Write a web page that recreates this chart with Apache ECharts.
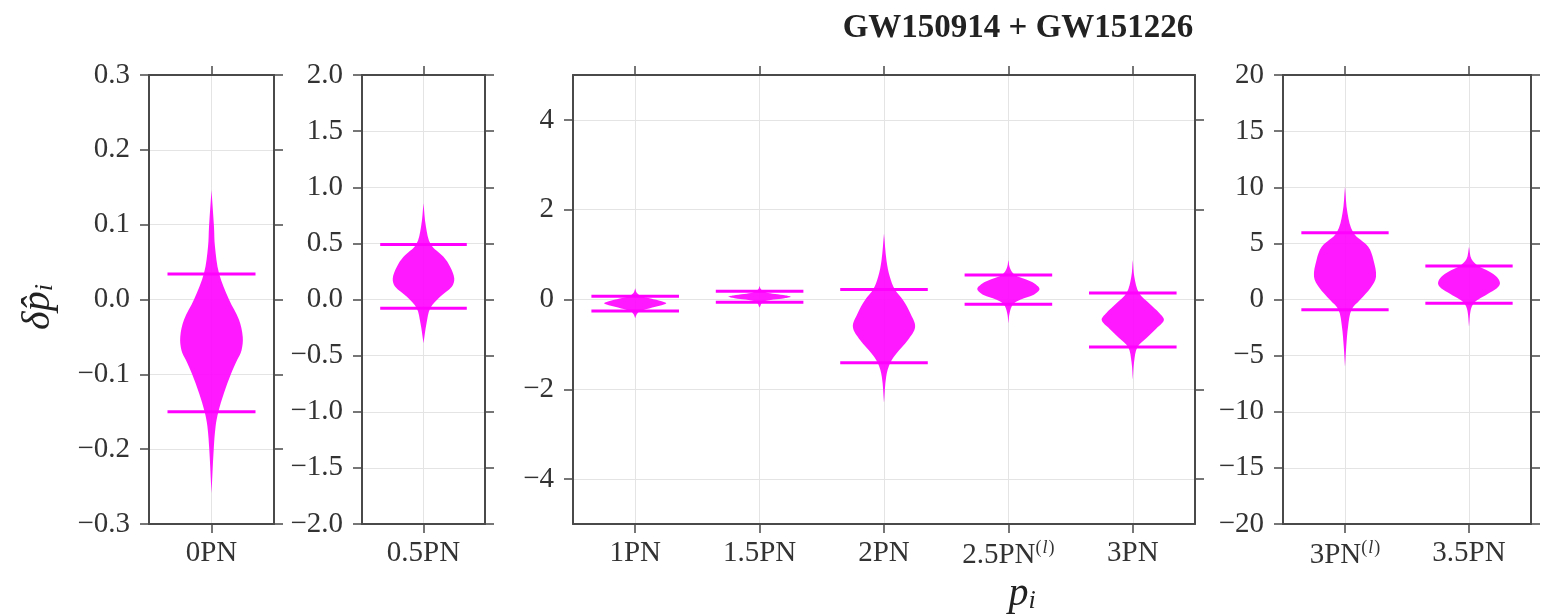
<!DOCTYPE html>
<html>
<head>
<meta charset="utf-8">
<script src="https://cdn.jsdelivr.net/npm/echarts@6/dist/echarts.min.js"></script>
<style>
html,body{margin:0;padding:0;background:#fff;}
#chart{width:1546px;height:616px;}
</style>
</head>
<body>
<div id="chart"></div>
<script>
// ---------------- DATA ----------------
const panelCategories = [
  ['0PN'],
  ['0.5PN'],
  ['1PN', '1.5PN', '2PN', '2.5PN{sup|(}{supi|l}{sup|)}', '3PN'],
  ['3PN{sup|(}{supi|l}{sup|)}', '3.5PN']
];
const yRanges = [[-0.3, 0.3], [-2, 2], [-5, 5], [-20, 20]];
const yTickValues = [
  [-0.3, -0.2, -0.1, 0, 0.1, 0.2, 0.3],
  [-2, -1.5, -1, -0.5, 0, 0.5, 1, 1.5, 2],
  [-4, -2, 0, 2, 4],
  [-20, -15, -10, -5, 0, 5, 10, 15, 20]
];
const yTickLabels = [
  ['\u22120.3', '\u22120.2', '\u22120.1', '0.0', '0.1', '0.2', '0.3'],
  ['\u22122.0', '\u22121.5', '\u22121.0', '\u22120.5', '0.0', '0.5', '1.0', '1.5', '2.0'],
  ['\u22124', '\u22122', '0', '2', '4'],
  ['\u221220', '\u221215', '\u221210', '\u22125', '0', '5', '10', '15', '20']
];
// violins: panel index and slot inside the panel
const violinPanel = [0, 1, 2, 2, 2, 2, 2, 3, 3];
const violinSlot  = [0, 0, 0, 1, 2, 3, 4, 0, 1];
// 90% bounds (horizontal bars)
const lowerBound = [-0.150, -0.077, -0.256, -0.063, -1.41, -0.107, -1.06, -0.91, -0.34];
const upperBound = [0.034, 0.49, 0.071, 0.183, 0.22, 0.546, 0.145, 5.95, 2.98];
// violin outlines: sampled parameter values (top to bottom) and relative density (max = 1)
const violinValues = [
  [0.146, 0.097, 0.071, 0.035, 0.0, -0.027, -0.05, -0.068, -0.081, -0.1, -0.125, -0.15, -0.17, -0.201, -0.259],
  [0.857, 0.649, 0.49, 0.38, 0.29, 0.188, 0.114, 0.025, -0.078, -0.21, -0.39],
  [0.25, 0.15, 0.07, 0.02, -0.04, -0.085, -0.13, -0.2, -0.26, -0.33, -0.42],
  [0.3, 0.22, 0.16, 0.12, 0.09, 0.063, 0.03, 0.0, -0.06, -0.18],
  [1.47, 0.87, 0.5, 0.22, -0.01, -0.31, -0.61, -0.9, -1.2, -1.41, -1.72, -2.3],
  [0.88, 0.7, 0.55, 0.45, 0.35, 0.227, 0.1, 0.0, -0.107, -0.3, -0.53],
  [0.88, 0.5, 0.145, -0.1, -0.3, -0.457, -0.65, -0.85, -1.06, -1.4, -1.79],
  [10.05, 7.7, 5.95, 4.7, 3.5, 2.03, 1.1, -0.05, -0.91, -2.4, -4.2, -6.0],
  [4.7, 3.6, 2.98, 2.5, 2.0, 1.44, 1.0, 0.5, 0.0, -0.34, -1.0, -2.42]
];
const violinDensity = [
  [0, 0.08, 0.11, 0.24, 0.56, 0.88, 1.0, 0.96, 0.82, 0.62, 0.4, 0.22, 0.13, 0.07, 0],
  [0, 0.08, 0.24, 0.65, 0.87, 1.0, 0.92, 0.54, 0.22, 0.1, 0],
  [0, 0.05, 0.2, 0.5, 0.85, 1.0, 0.85, 0.45, 0.15, 0.05, 0],
  [0, 0.05, 0.2, 0.5, 0.85, 1.0, 0.8, 0.45, 0.1, 0],
  [0, 0.08, 0.19, 0.35, 0.61, 0.85, 1.0, 0.77, 0.4, 0.2, 0.07, 0],
  [0, 0.05, 0.2, 0.55, 0.85, 1.0, 0.8, 0.4, 0.15, 0.04, 0],
  [0, 0.05, 0.2, 0.55, 0.85, 1.0, 0.75, 0.45, 0.15, 0.04, 0],
  [0, 0.08, 0.27, 0.75, 0.92, 1.0, 0.84, 0.48, 0.21, 0.1, 0.04, 0],
  [0, 0.08, 0.3, 0.65, 0.9, 1.0, 0.9, 0.6, 0.3, 0.15, 0.05, 0]
];
const titleText = 'GW150914 + GW151226';

// ---------------- LAYOUT / STYLE ----------------
const SERIF = "'Liberation Serif', 'DejaVu Serif', serif";
const AXIS_COLOR = '#4a4a4a';
const GRID_COLOR = '#e4e4e4';
const MAGENTA = '#ff00ff';
const LABEL_SIZE = 29;
const gridBoxes = [
  { left: 149, width: 125 },
  { left: 362, width: 123 },
  { left: 573, width: 622 },
  { left: 1283, width: 248 }
];
const TOP = 75, HEIGHT = 449;

const chart = echarts.init(document.getElementById('chart'), null, { renderer: 'canvas' });

const grids = [], xAxes = [], yAxes = [], series = [];
const labelRich = {
  sup: { fontFamily: SERIF, fontSize: 18, color: '#333', verticalAlign: 'top', padding: [0, 0, 14, 0] },
  supi: { fontFamily: SERIF, fontSize: 18, fontStyle: 'italic', color: '#333', verticalAlign: 'top', padding: [0, 1, 14, 1] }
};

gridBoxes.forEach((g, p) => {
  grids.push({ left: g.left, width: g.width, top: TOP, height: HEIGHT, containLabel: false, outerBoundsMode: 'none' });
  const cats = panelCategories[p];
  const xVals = cats.map((c, i) => i);
  const xBase = {
    type: 'value', gridIndex: p, min: -0.5, max: cats.length - 0.5,
    axisLine: { show: true, onZero: false, lineStyle: { color: AXIS_COLOR, width: 2 } },
    axisTick: { show: true, inside: false, length: 9, customValues: xVals, lineStyle: { color: AXIS_COLOR, width: 1.5 } },
    splitLine: { show: false }
  };
  xAxes.push(Object.assign({}, xBase, {
    position: 'bottom',
    axisLabel: {
      show: true, customValues: xVals, margin: 15,
      fontFamily: SERIF, fontSize: LABEL_SIZE, color: '#333',
      formatter: v => cats[Math.round(v)] || '',
      rich: labelRich
    },
    splitLine: { show: true, lineStyle: { color: GRID_COLOR, width: 1 } }
  }));
  xAxes.push(Object.assign({}, xBase, { position: 'top', axisLabel: { show: false } }));

  const tv = yTickValues[p], tl = yTickLabels[p];
  const yBase = {
    type: 'value', gridIndex: p, min: yRanges[p][0], max: yRanges[p][1],
    axisLine: { show: true, onZero: false, lineStyle: { color: AXIS_COLOR, width: 2 } },
    axisTick: { show: true, inside: false, length: 9, customValues: tv, lineStyle: { color: AXIS_COLOR, width: 1.5 } },
    splitLine: { show: false }
  };
  yAxes.push(Object.assign({}, yBase, {
    position: 'left',
    axisLabel: {
      show: true, customValues: tv, margin: 19,
      fontFamily: SERIF, fontSize: LABEL_SIZE, color: '#333',
      formatter: v => {
        let best = 0;
        tv.forEach((t, i) => { if (Math.abs(t - v) < Math.abs(tv[best] - v)) best = i; });
        return tl[best];
      }
    },
    splitLine: { show: true, lineStyle: { color: GRID_COLOR, width: 1 } }
  }));
  yAxes.push(Object.assign({}, yBase, { position: 'right', axisLabel: { show: false } }));

  const items = [];
  violinPanel.forEach((vp, k) => { if (vp === p) items.push([violinSlot[k], k]); });

  series.push({
    type: 'custom',
    xAxisIndex: 2 * p,
    yAxisIndex: 2 * p,
    data: items,
    encode: { x: 0 },
    silent: true,
    z: 5,
    renderItem: function (params, api) {
      const slot = api.value(0);
      const k = api.value(1);
      const bw = api.size([1, 0])[0];
      const cx = api.coord([slot, 0])[0];
      const half = bw * 0.25;
      const vals = violinValues[k], dens = violinDensity[k];
      const right = [], left = [];
      for (let i = 0; i < vals.length; i++) {
        const y = api.coord([slot, vals[i]])[1];
        right.push([cx + dens[i] * half, y]);
        left.push([cx - dens[i] * half, y]);
      }
      const pts = right.concat(left.reverse());
      const barHalf = bw * 0.352;
      const yLo = api.coord([slot, lowerBound[k]])[1];
      const yHi = api.coord([slot, upperBound[k]])[1];
      return {
        type: 'group',
        children: [
          { type: 'polygon', shape: { points: pts, smooth: 0.35 },
            style: { fill: 'rgba(255,0,255,0.9)', stroke: null } },
          { type: 'line', shape: { x1: cx - barHalf, y1: yLo, x2: cx + barHalf, y2: yLo },
            style: { stroke: MAGENTA, lineWidth: 3 } },
          { type: 'line', shape: { x1: cx - barHalf, y1: yHi, x2: cx + barHalf, y2: yHi },
            style: { stroke: MAGENTA, lineWidth: 3 } }
        ]
      };
    }
  });
});

chart.setOption({
  backgroundColor: '#ffffff',
  animation: false,
  grid: grids,
  xAxis: xAxes,
  yAxis: yAxes,
  series: series,
  graphic: [
    { type: 'text', x: 1018, y: 28,
      style: { text: titleText, fontFamily: SERIF, fontWeight: 'bold', fontSize: 33, fill: '#222',
               align: 'center', verticalAlign: 'middle' } },
    { type: 'text', x: 38, y: 307, rotation: Math.PI / 2,
      style: { text: '\u03b4p\u0302{s|i}', fontFamily: SERIF, fontStyle: 'italic', fontSize: 40, fill: '#222',
               align: 'center', verticalAlign: 'middle',
               rich: { s: { fontFamily: SERIF, fontStyle: 'italic', fontSize: 26, fill: '#222', padding: [14, 0, 0, 0] } } } },
    { type: 'text', x: 1022, y: 594,
      style: { text: 'p{s|i}', fontFamily: SERIF, fontStyle: 'italic', fontSize: 40, fill: '#222',
               align: 'center', verticalAlign: 'middle',
               rich: { s: { fontFamily: SERIF, fontStyle: 'italic', fontSize: 26, fill: '#222', padding: [14, 0, 0, 0] } } } }
  ]
});
</script>
</body>
</html>
